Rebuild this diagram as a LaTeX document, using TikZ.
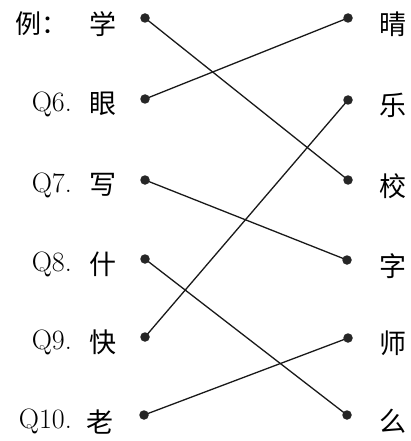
\documentclass[tikz,border=0pt]{standalone}
\usepackage{fontspec}
\newfontfamily\cjk{Noto Sans CJK SC}
\begin{document}
\begin{tikzpicture}[x=1pt,y=1pt,
  dot/.style={circle,fill=black!85,inner sep=0pt,minimum size=9.5pt},
  hz/.style={font=\cjk\fontsize{27}{27}\selectfont,inner sep=0pt},
  qlab/.style={font=\fontsize{28}{28}\selectfont,anchor=east,inner sep=0pt},
  link/.style={line width=1.3pt,black!90}]
\useasboundingbox (0,0) rectangle (411,-441);
% left labels
\node[qlab,font=\cjk\fontsize{26}{26}\selectfont] (q0) at (68,-24) {例：};
\node[qlab] (q6) at (72,-104) {Q6.};
\node[qlab] (q7) at (72,-185) {Q7.};
\node[qlab] (q8) at (72,-264) {Q8.};
\node[qlab] (q9) at (72,-342) {Q9.};
\node[qlab] (q10) at (72,-421) {Q10.};
% left characters
\node[hz] (c1) at (103,-24) {学};
\node[hz] (c2) at (103,-104) {眼};
\node[hz] (c3) at (103,-185) {写};
\node[hz] (c4) at (103,-264) {什};
\node[hz] (c5) at (103,-342) {快};
\node[hz] (c6) at (100,-422) {老};
% right characters
\node[hz] (d1) at (393,-24) {晴};
\node[hz] (d2) at (393,-105) {乐};
\node[hz] (d3) at (393,-186) {校};
\node[hz] (d4) at (393,-266) {字};
\node[hz] (d5) at (393,-343) {师};
\node[hz] (d6) at (393,-421) {么};
% dots
\coordinate (l1) at (145,-18);
\coordinate (l2) at (145,-99);
\coordinate (l3) at (145,-180);
\coordinate (l4) at (145,-259);
\coordinate (l5) at (145,-337);
\coordinate (l6) at (144,-415);
\coordinate (r1) at (348,-18);
\coordinate (r2) at (348,-100);
\coordinate (r3) at (348,-180);
\coordinate (r4) at (347,-260);
\coordinate (r5) at (348,-338);
\coordinate (r6) at (347,-415);
% links
\draw[link] (l1) -- (r3);
\draw[link] (l2) -- (r1);
\draw[link] (l3) -- (r4);
\draw[link] (l4) -- (r6);
\draw[link] (l5) -- (r2);
\draw[link] (l6) -- (r5);
\foreach \p in {l1,l2,l3,l4,l5,l6,r1,r2,r3,r4,r5,r6}
  \node[dot] at (\p) {};
\end{tikzpicture}
\end{document}
